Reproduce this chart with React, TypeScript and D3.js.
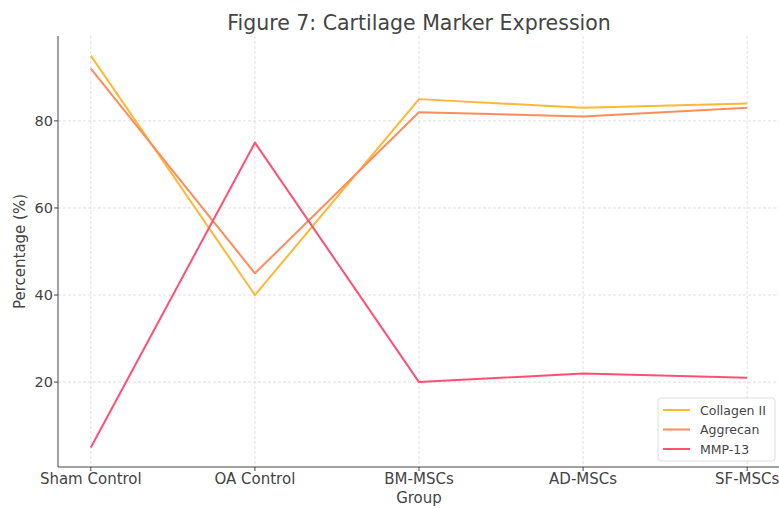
import React from "react";
import * as d3 from "d3";

const groups = ["Sham Control", "OA Control", "BM-MSCs", "AD-MSCs", "SF-MSCs"];
const collagenII = [95, 40, 85, 83, 84];
const aggrecan = [92, 45, 82, 81, 83];
const mmp13 = [5, 75, 20, 22, 21];
const yTicks = [20, 40, 60, 80];

const seriesList = [
  { name: "Collagen II", values: collagenII, color: "#FFB833" },
  { name: "Aggrecan", values: aggrecan, color: "#FF8C5A" },
  { name: "MMP-13", values: mmp13, color: "#FF5073" },
];

const W = 779;
const H = 509;
const font = "'DejaVu Sans', sans-serif";

export default function App() {
  const left = 58;
  const top = 36;
  const bottom = 467;
  const x = d3.scaleLinear().domain([-0.2, 4.2]).range([left, 780]);
  const y = d3.scaleLinear().domain([0.5, 99.5]).range([bottom, top]);
  const line = d3
    .line<number>()
    .x((_, i) => x(i))
    .y((v) => y(v));

  return (
    <svg
      width={W}
      height={H}
      style={{ position: "absolute", left: 0, top: 0, background: "#fff" }}
      fontFamily={font}
    >
      <text x={419} y={30} textAnchor="middle" fontSize={20.5} fill="#444">
        Figure 7: Cartilage Marker Expression
      </text>

      {/* grid */}
      {groups.map((g, i) => (
        <line
          key={g}
          x1={x(i)}
          x2={x(i)}
          y1={top}
          y2={bottom}
          stroke="#d8d8d8"
          strokeWidth={0.8}
          strokeDasharray="3,2"
        />
      ))}
      {yTicks.map((t) => (
        <line
          key={t}
          x1={left}
          x2={W}
          y1={y(t)}
          y2={y(t)}
          stroke="#d8d8d8"
          strokeWidth={0.8}
          strokeDasharray="3,2"
        />
      ))}

      {/* series */}
      {seriesList.map((s) => (
        <path
          key={s.name}
          d={line(s.values) ?? ""}
          fill="none"
          stroke={s.color}
          strokeWidth={2}
          strokeLinejoin="round"
        />
      ))}

      {/* axes */}
      <line x1={left} x2={left} y1={top} y2={bottom} stroke="#444" strokeWidth={1} />
      <line x1={left} x2={W} y1={bottom} y2={bottom} stroke="#444" strokeWidth={1} />
      {groups.map((g, i) => (
        <g key={g}>
          <line x1={x(i)} x2={x(i)} y1={bottom} y2={bottom + 4} stroke="#444" />
          <text x={x(i)} y={484} textAnchor="middle" fontSize={15} fill="#444">
            {g}
          </text>
        </g>
      ))}
      {yTicks.map((t) => (
        <g key={t}>
          <line x1={left - 4} x2={left} y1={y(t)} y2={y(t)} stroke="#444" />
          <text x={left - 5} y={y(t) + 5} textAnchor="end" fontSize={14.5} fill="#444">
            {t}
          </text>
        </g>
      ))}
      <text x={419} y={503} textAnchor="middle" fontSize={15} fill="#444">
        Group
      </text>
      <text
        transform={`translate(25,${(top + bottom) / 2}) rotate(-90)`}
        textAnchor="middle"
        fontSize={15}
        fill="#444"
      >
        Percentage (%)
      </text>

      {/* legend */}
      <rect x={658} y={398} width={117} height={63} rx={3} fill="#fff" fillOpacity={0.85} stroke="#ddd" />
      {seriesList.map((s, i) => (
        <g key={s.name}>
          <line x1={663} x2={690} y1={410 + i * 19.5} y2={410 + i * 19.5} stroke={s.color} strokeWidth={2} />
          <text x={700} y={410 + i * 19.5 + 4.5} fontSize={12.5} fill="#444">
            {s.name}
          </text>
        </g>
      ))}
    </svg>
  );
}
